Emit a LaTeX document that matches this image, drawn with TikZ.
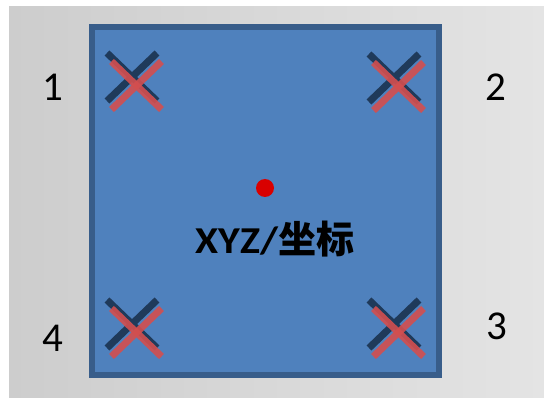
\documentclass[tikz,border=0pt]{standalone}
\usepackage{fontspec}
\usetikzlibrary{calc}
\setmainfont{Carlito}
\newfontfamily\cjkfont{Noto Sans CJK SC}
\definecolor{bgL}{HTML}{CDCDCD}
\definecolor{bgR}{HTML}{E4E4E4}
\definecolor{boxfill}{HTML}{4F81BD}
\definecolor{boxline}{HTML}{385D8A}
\definecolor{xdark}{HTML}{1F3A5A}
\definecolor{xred}{HTML}{D34F4F}
\tikzset{
  darkx/.style={draw=xdark, line width=7pt},
  redx/.style={draw=xred, line width=7pt, opacity=0.9},
  numlabel/.style={inner sep=0pt, font=\fontsize{41}{41}\selectfont, text=black},
}
\begin{document}
\begin{tikzpicture}[x=1pt,y=-1pt]
\useasboundingbox (0,0) rectangle (544,398);
\fill[white] (0,0) rectangle (544,398);
\shade[left color=bgL, right color=bgR] (9,7) rectangle (544,398);
\draw[draw=boxline, fill=boxfill, line width=6pt] (92,27) rectangle (439,375);
\foreach \cx/\cy [count=\i] in {132/77, 394/78, 394/324, 132/324}{
  \coordinate (d\i) at (\cx,\cy);
  \coordinate (r\i) at (\cx+4.5,\cy+8.5);
  \draw[darkx] ($(d\i)+(-25,-24)$) -- ($(d\i)+(25,24)$);
  \draw[darkx] ($(d\i)+(25,-24)$) -- ($(d\i)+(-25,24)$);
  \draw[redx] ($(r\i)+(-25,-24)$) -- ($(r\i)+(25,24)$);
  \draw[redx] ($(r\i)+(25,-24)$) -- ($(r\i)+(-25,24)$);
}
\node[numlabel] (n1) at (53,87) {1};
\node[numlabel] (n2) at (496,87) {2};
\node[numlabel] (n3) at (497,326) {3};
\node[numlabel] (n4) at (53,338) {4};
\fill[red!85!black] (265,188) circle (9);
\node[inner sep=0pt, font=\bfseries\fontsize{38}{38}\selectfont] (lbl) at (275,239) {\scalebox{1.1}[1]{XYZ/}{\cjkfont\bfseries 坐标}};
\end{tikzpicture}
\end{document}
